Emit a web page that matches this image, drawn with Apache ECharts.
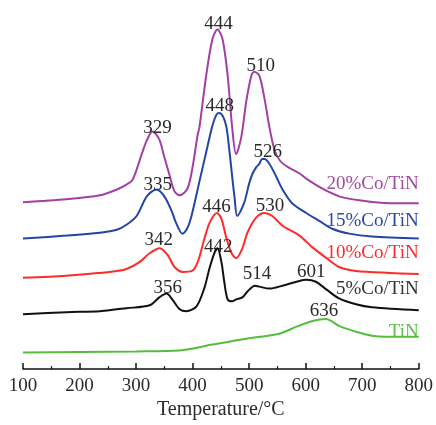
<!DOCTYPE html>
<html><head><meta charset="utf-8">
<script src="https://cdn.jsdelivr.net/npm/echarts@6/dist/echarts.min.js"></script>
<style>html,body{margin:0;padding:0;background:#fff}#c{width:436px;height:425px}</style>
</head><body><div id="c"></div>
<script>
// X axis ticks
const xTicks = [100, 200, 300, 400, 500, 600, 700, 800];
const seriesNames = ['20%Co/TiN', '15%Co/TiN', '10%Co/TiN', '5%Co/TiN', 'TiN'];

// 20%Co/TiN
const t20 = [100,177,236,266,283,294,310,319,329,341,350,359,368,377,391,400,409,412,424,435,444,453,462,470,477,486,495,504,509,518,527,536,545,555,568,590,601,629,659,695,748,800];
const v20 = [170,173,177,183,188,193,219,233,242,234,216,198,181,177,184,206,239,246,299,336,346,336,299,246,219,236,273,299,303,299,276,246,223,212,206,199,194,184,176,172,169,169];
const p20 = [329, 444, 510];

// 15%Co/TiN
const t15 = [100,177,236,266,283,301,319,336,350,363,370,382,391,398,412,424,435,442,447,454,460,465,470,474,479,491,500,506,513,518,523,527,536,548,559,576,601,624,647,677,717,800];
const v15 = [133,136,139,142,147,156,176,183,176,161,150,138,144,156,191,221,248,259,261,257,246,223,196,176,156,169,189,199,206,209,214,214,209,196,183,169,159,151,143,138,135,133];
const p15 = [335, 448, 526];

// 10%Co/TiN
const t10 = [100,177,236,266,283,306,324,342,356,368,383,399,409,421,430,443,451,460,469,477,488,497,512,527,541,559,589,612,637,659,689,748,800];
const v10 = [93,95,98,100,102,109,118,123,116,104,99,100,109,133,149,159,153,133,118,113,123,139,154,159,156,146,136,124,113,104,100,98,97];
const p10 = [342, 446, 530];

// 5%Co/TiN
const t5 = [100,177,236,266,283,324,341,354,364,377,389,407,421,430,439,444,451,456,462,470,477,488,497,510,518,536,559,584,601,618,637,659,689,717,800];
const v5 = [56,58,59,61,62,65,73,77,71,61,59,64,83,103,119,123,109,89,71,69,71,73,79,85,84,82,85,89,91,89,81,72,66,63,60];
const p5 = [356, 442, 514, 601];

// TiN
const t0 = [100,200,300,377,435,495,553,583,612,636,659,689,717,742,800];
const v0 = [17,17.5,18,19,25,31,36,43,49,51,44,38,34,33,33];
const p0 = [636];

const colors = ['#a43fa4', '#2444a8', '#ff2a2a', '#111111', '#52be3c'];
const nameColors = ['#a14aa1', '#2a48a8', '#ff2a2a', '#333333', '#5cc04a'];
const tArr = [t20, t15, t10, t5, t0];
const vArr = [v20, v15, v10, v5, v0];
const pArr = [p20, p15, p10, p5, p0];
// label offsets (pixels) relative to peak point
const peakOffsets = [
  [[5,-4],[1,-5],[6,-6]],
  [[2,-5],[0,-7],[4,-7]],
  [[-1,-8],[-2,-8],[4,-8]],
  [[0,-7],[2,-3],[0,-12],[5,-8]],
  [[-2,-8]]
];
const nameOffsets = [-19, -18, -21, -21, -5];

function valueAt(ts, vs, t) {
  for (let i = 0; i < ts.length - 1; i++) {
    if (t >= ts[i] && t <= ts[i+1]) {
      const f = (t - ts[i]) / (ts[i+1] - ts[i]);
      return vs[i] + f * (vs[i+1] - vs[i]);
    }
  }
  return vs[vs.length - 1];
}

const font = '"Liberation Serif", "Times New Roman", serif';
const series = seriesNames.map((name, k) => {
  const ts = tArr[k], vs = vArr[k];
  const mp = pArr[k].map((p, j) => ({
    coord: [p, valueAt(ts, vs, p)],
    label: { formatter: String(p), offset: peakOffsets[k][j], color: '#2a2a2a', fontSize: 19 }
  }));
  mp.push({
    coord: [ts[ts.length-1], vs[vs.length-1]],
    label: { formatter: name, offset: [0, nameOffsets[k]], color: nameColors[k], align: 'right', fontSize: 19 }
  });
  return {
    name, type: 'line', smooth: 0.3, showSymbol: false, symbol: 'none',
    data: ts.map((t, i) => [t, vs[i]]),
    lineStyle: { color: colors[k], width: 2 },
    itemStyle: { color: colors[k] },
    z: 2 + k,
    markPoint: {
      symbol: 'circle', symbolSize: 0, silent: true, animation: false,
      label: { show: true, position: 'inside', fontFamily: font, fontSize: 19 },
      data: mp
    }
  };
});

const chart = echarts.init(document.getElementById('c'), null, { renderer: 'canvas' });
chart.setOption({
  animation: false,
  backgroundColor: '#fff',
  grid: { left: 23, right: 16, top: 0, bottom: 49 },
  xAxis: {
    type: 'value', min: xTicks[0], max: xTicks[xTicks.length-1], interval: 100,
    name: 'Temperature/°C', nameLocation: 'middle', nameGap: 26,
    nameTextStyle: { fontFamily: font, fontSize: 20, color: '#2a2a2a' },
    axisLine: { lineStyle: { color: '#111', width: 1.5 } },
    axisTick: { inside: true, length: 6, lineStyle: { color: '#111', width: 1.5 } },
    minorTick: { show: true, splitNumber: 2, length: 3, lineStyle: { color: '#111', width: 1.2 } },
    axisLabel: { fontFamily: font, fontSize: 19, color: '#2a2a2a', margin: 7 },
    splitLine: { show: false }
  },
  yAxis: { type: 'value', min: 0, max: 376, show: false, splitLine: { show: false } },
  series
});
</script>
</body></html>
